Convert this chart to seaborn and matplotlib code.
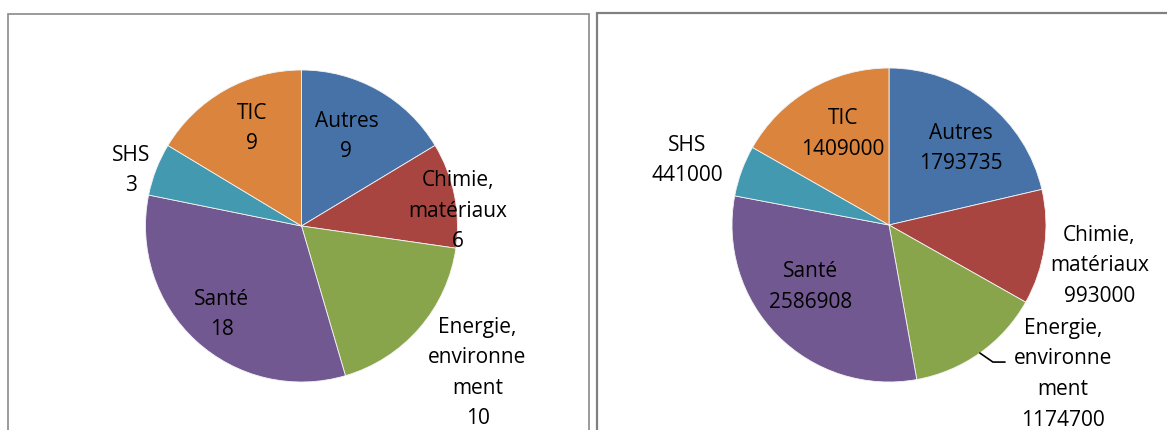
import numpy as np
import matplotlib.pyplot as plt
import seaborn as sns

sns.set_theme(style="white")
plt.rcParams['font.family'] = ['Open Sans', 'DejaVu Sans']

categories = ["Autres", "Chimie,\nmatériaux", "Energie,\nenvironne\nment", "Santé", "SHS", "TIC"]
projects = [9, 6, 10, 18, 3, 9]
budget = [1793735, 993000, 1174700, 2586908, 441000, 1409000]

colors = ["#4672A8", "#A94541", "#89A54C", "#725890", "#4299B0", "#DA843D"]

W, H = 1167, 431

# label placement: (radial distance in radii, angle nudge in degrees)
left_layout = [(0.67, 4), (1.01, -4.2), (1.45, 2), (0.74, -1), (1.16, 1.7), (0.73, -3.8)]
right_layout = [(0.69, -2.8), (1.36, -1.5), (1.44, 15), (0.62, -8.7), (1.36, 1.2), (0.68, -4.6)]


def draw_pie(fig, values, cx, cy, R, layout, leader=None):
    ax = fig.add_axes([0, 0, 1, 1])
    ax.patch.set_alpha(0)
    wedges, _ = ax.pie(values, colors=colors, startangle=90, counterclock=False,
                       wedgeprops=dict(edgecolor="#f4f4f4", linewidth=0.6))
    ax.set_aspect('auto')
    ax.set_xlim(-cx / R, (W - cx) / R)
    ax.set_ylim(-(H - cy) / R, cy / R)
    ax.axis('off')
    for w, cat, v, (r, dt) in zip(wedges, categories, values, layout):
        mid = np.deg2rad((w.theta1 + w.theta2) / 2 + dt)
        # small downward nudge so the visual centre matches
        ax.text(r * np.cos(mid), r * np.sin(mid) - 4 / R, f"{cat}\n{v}", ha='center', va='center',
                fontsize=15, linespacing=1.6, color="black")
    if leader is not None:
        i, pts = leader
        w = wedges[i]
        mid = np.deg2rad((w.theta1 + w.theta2) / 2)
        xs = [np.cos(mid)] + [p[0] for p in pts]
        ys = [np.sin(mid)] + [p[1] for p in pts]
        ax.plot(xs, ys, color="black", linewidth=1.2)
    return ax


fig = plt.figure(figsize=(W / 100, H / 100), dpi=100)

# chart frames
fig.add_artist(plt.Rectangle((8 / W, -0.1), 581 / W, 1.1 + (H - 15) / H - 1,
                             transform=fig.transFigure, fill=False, edgecolor="#8a8a8a", linewidth=1.2))
fig.add_artist(plt.Rectangle((597 / W, -0.1), 600 / W, 1.1 + (H - 14) / H - 1,
                             transform=fig.transFigure, fill=False, edgecolor="#808080", linewidth=1.6))

draw_pie(fig, projects, 301.5, 227, 156, left_layout)
draw_pie(fig, budget, 889, 226, 157, right_layout,
         leader=(2, [(0.662, -0.873), (0.739, -0.873)]))

fig.savefig("out.png", dpi=100)
